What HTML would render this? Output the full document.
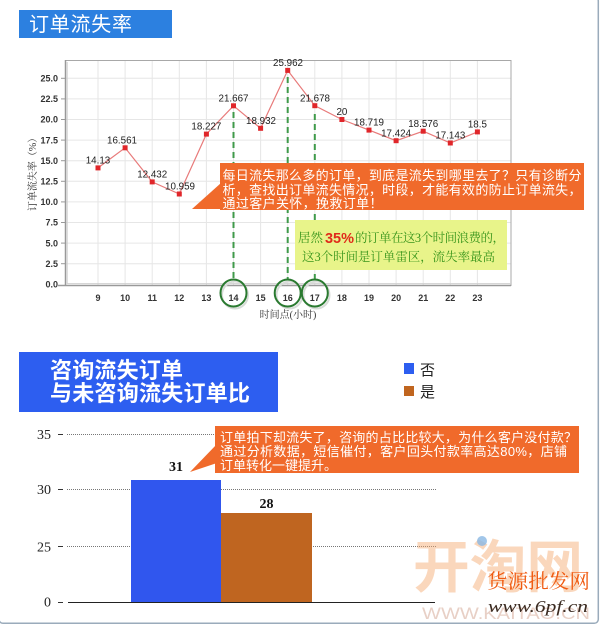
<!DOCTYPE html>
<html><head><meta charset="utf-8"><style>
html,body{margin:0;padding:0;background:#fff;}
svg{display:block;}
.cjk{font-family:"Liberation Sans","Noto Sans CJK SC",sans-serif;}
</style></head><body>
<svg width="600" height="626" viewBox="0 0 600 626" xmlns="http://www.w3.org/2000/svg">
<rect x="0" y="0" width="600" height="626" fill="#fff"/>
<!-- page frame -->
<rect x="-1" y="-3" width="599.3" height="626.3" rx="4" fill="none" stroke="#9aabbb" stroke-width="1.5"/>

<!-- header 1 -->
<rect x="19" y="10" width="153" height="28" fill="#2c80e0"/>
<text x="29" y="31" fill="#fff" font-size="20" class="cjk" font-family="Liberation Sans, Noto Sans CJK SC, sans-serif" textLength="103" lengthAdjust="spacing">订单流失率</text>

<!-- plot grid -->
<g stroke="#e6e6e6" stroke-width="1">
<line x1="65" y1="263.7" x2="511" y2="263.7"/><line x1="65" y1="243.1" x2="511" y2="243.1"/>
<line x1="65" y1="222.5" x2="511" y2="222.5"/><line x1="65" y1="201.9" x2="511" y2="201.9"/>
<line x1="65" y1="181.3" x2="511" y2="181.3"/><line x1="65" y1="160.7" x2="511" y2="160.7"/>
<line x1="65" y1="140.1" x2="511" y2="140.1"/><line x1="65" y1="119.5" x2="511" y2="119.5"/>
<line x1="65" y1="98.9" x2="511" y2="98.9"/><line x1="65" y1="78.3" x2="511" y2="78.3"/>
<line x1="98" y1="60" x2="98" y2="285"/><line x1="125.1" y1="60" x2="125.1" y2="285"/>
<line x1="152.2" y1="60" x2="152.2" y2="285"/><line x1="179.3" y1="60" x2="179.3" y2="285"/>
<line x1="206.4" y1="60" x2="206.4" y2="285"/><line x1="233.5" y1="60" x2="233.5" y2="285"/>
<line x1="260.6" y1="60" x2="260.6" y2="285"/><line x1="287.7" y1="60" x2="287.7" y2="285"/>
<line x1="314.8" y1="60" x2="314.8" y2="285"/><line x1="341.9" y1="60" x2="341.9" y2="285"/>
<line x1="369" y1="60" x2="369" y2="285"/><line x1="396.1" y1="60" x2="396.1" y2="285"/>
<line x1="423.2" y1="60" x2="423.2" y2="285"/><line x1="450.3" y1="60" x2="450.3" y2="285"/>
<line x1="477.4" y1="60" x2="477.4" y2="285"/>
</g>
<!-- frame -->
<rect x="65.5" y="60.5" width="445.5" height="225" fill="none" stroke="#a8a8a8" stroke-width="1"/>
<line x1="65.5" y1="60" x2="65.5" y2="286" stroke="#999" stroke-width="1.5"/>
<line x1="67.2" y1="62" x2="67.2" y2="284" stroke="#cfcfcf" stroke-width="1"/>
<line x1="58" y1="285.5" x2="511" y2="285.5" stroke="#999" stroke-width="1.5"/>
<line x1="67" y1="283.6" x2="511" y2="283.6" stroke="#d0d0d0" stroke-width="1"/>
<!-- y ticks -->
<g stroke="#999" stroke-width="1">
<line x1="61" y1="263.7" x2="65" y2="263.7"/><line x1="61" y1="243.1" x2="65" y2="243.1"/>
<line x1="61" y1="222.5" x2="65" y2="222.5"/><line x1="61" y1="201.9" x2="65" y2="201.9"/>
<line x1="61" y1="181.3" x2="65" y2="181.3"/><line x1="61" y1="160.7" x2="65" y2="160.7"/>
<line x1="61" y1="140.1" x2="65" y2="140.1"/><line x1="61" y1="119.5" x2="65" y2="119.5"/>
<line x1="61" y1="98.9" x2="65" y2="98.9"/><line x1="61" y1="78.3" x2="65" y2="78.3"/>
</g>
<g font-family="Liberation Sans, sans-serif" font-size="9" font-weight="bold" fill="#333" text-anchor="end">
<text x="58" y="287.5">0.0</text><text x="58" y="266.9">2.5</text><text x="58" y="246.3">5.0</text>
<text x="58" y="225.7">7.5</text><text x="58" y="205.1">10.0</text><text x="58" y="184.5">12.5</text>
<text x="58" y="163.9">15.0</text><text x="58" y="143.3">17.5</text><text x="58" y="122.7">20.0</text>
<text x="58" y="102.1">22.5</text><text x="58" y="81.5">25.0</text>
</g>
<g font-family="Liberation Sans, sans-serif" font-size="9" font-weight="bold" fill="#333" text-anchor="middle">
<text x="98" y="301">9</text><text x="125.1" y="301">10</text><text x="152.2" y="301">11</text>
<text x="179.3" y="301">12</text><text x="206.4" y="301">13</text><text x="233.5" y="301">14</text>
<text x="260.6" y="301">15</text><text x="287.7" y="301">16</text><text x="314.8" y="301">17</text>
<text x="341.9" y="301">18</text><text x="369" y="301">19</text><text x="396.1" y="301">20</text>
<text x="423.2" y="301">21</text><text x="450.3" y="301">22</text><text x="477.4" y="301">23</text>
</g>
<text x="288" y="318" text-anchor="middle" font-size="10" fill="#333" font-family="Liberation Serif, Noto Serif CJK SC, serif">时间点(小时)</text>
<text transform="translate(36,172) rotate(-90)" text-anchor="middle" font-size="10" fill="#333" font-family="Liberation Serif, Noto Serif CJK SC, serif">订单流失率（%）</text>

<!-- dashed green lines -->
<g stroke="#3f9a4a" stroke-width="2" stroke-dasharray="6,4">
<line x1="233.5" y1="112" x2="233.5" y2="280"/>
<line x1="287.7" y1="77" x2="287.7" y2="280"/>
<line x1="314.8" y1="114" x2="314.8" y2="280"/>
</g>

<!-- series -->
<polyline fill="none" stroke="#e87a7a" stroke-width="1.2" points="98,167.9 125.1,147.8 152.2,181.9 179.3,194 206.4,134.1 233.5,105.8 260.6,128.3 287.7,70.4 314.8,105.7 341.9,119.5 369,130.1 396.1,140.7 423.2,131.2 450.3,143 477.4,131.9"/>
<g fill="#e0262a">
<rect x="95.5" y="165.4" width="5" height="5"/><rect x="122.6" y="145.3" width="5" height="5"/>
<rect x="149.7" y="179.4" width="5" height="5"/><rect x="176.8" y="191.5" width="5" height="5"/>
<rect x="203.9" y="131.6" width="5" height="5"/><rect x="231" y="103.3" width="5" height="5"/>
<rect x="258.1" y="125.8" width="5" height="5"/><rect x="285.2" y="67.9" width="5" height="5"/>
<rect x="312.3" y="103.2" width="5" height="5"/><rect x="339.4" y="117" width="5" height="5"/>
<rect x="366.5" y="127.6" width="5" height="5"/><rect x="393.6" y="138.2" width="5" height="5"/>
<rect x="420.7" y="128.7" width="5" height="5"/><rect x="447.8" y="140.5" width="5" height="5"/>
<rect x="474.9" y="129.4" width="5" height="5"/>
</g>
<g font-family="Liberation Sans, sans-serif" font-size="9.8" fill="#222" text-anchor="middle">
<text x="98" y="163.5">14.13</text><text x="122" y="143.5">16.561</text>
<text x="152.2" y="177.5">12.432</text><text x="180" y="189.5">10.959</text>
<text x="206.4" y="129.5">18.227</text><text x="233.5" y="101.5">21.667</text>
<text x="261" y="124">18.932</text><text x="288" y="66">25.962</text>
<text x="315" y="101.5">21.678</text><text x="341.9" y="115">20</text>
<text x="369" y="125.5">18.719</text><text x="396.1" y="136.5">17.424</text>
<text x="423.2" y="127">18.576</text><text x="450.3" y="138.5">17.143</text>
<text x="477.4" y="127.5">18.5</text>
</g>

<!-- circles -->
<g fill="none" stroke="#d8dcd8" stroke-width="2">
<ellipse cx="235" cy="295" rx="13" ry="13.5"/><ellipse cx="289.5" cy="295" rx="13" ry="13.5"/><ellipse cx="316.5" cy="295" rx="13" ry="13.5"/>
</g>
<g fill="none" stroke="#2a7a30" stroke-width="2">
<ellipse cx="233.5" cy="293" rx="13" ry="13.5"/><ellipse cx="287.7" cy="293" rx="13" ry="13.5"/><ellipse cx="314.8" cy="293" rx="13" ry="13.5"/>
</g>

<!-- callout 1 -->
<polygon points="221,183 192,209 236,209" fill="#f06a2b"/>
<rect x="220" y="163" width="364" height="47" fill="#f06a2b"/>
<g fill="#fff" font-size="13" font-family="Liberation Sans, Noto Sans CJK SC, sans-serif">
<text x="222.5" y="180" textLength="359" lengthAdjust="spacing">每日流失那么多的订单，到底是流失到哪里去了？只有诊断分</text>
<text x="222.5" y="194.5" textLength="359" lengthAdjust="spacing">析，查找出订单流失情况，时段，才能有效的防止订单流失，</text>
<text x="222.5" y="208" textLength="160" lengthAdjust="spacing">通过客户关怀，挽救订单！</text>
</g>

<!-- yellow note -->
<rect x="295" y="220" width="212" height="50" fill="#e8f48a"/>
<g font-size="12.5" fill="#3a961c" font-family="Liberation Serif, Noto Serif CJK SC, serif">
<text x="298" y="242" textLength="25" lengthAdjust="spacing">居然</text>
<text x="325" y="243" font-size="15" font-weight="bold" fill="#e02a1a" font-family="Liberation Sans, sans-serif" textLength="29" lengthAdjust="spacingAndGlyphs">35%</text>
<text x="355" y="242" textLength="150" lengthAdjust="spacing">的订单在这3个时间浪费的，</text>
<text x="302" y="261" textLength="193" lengthAdjust="spacing">这3个时间是订单雷区，流失率最高</text>
</g>

<!-- header 2 -->
<rect x="19" y="352" width="259" height="60" fill="#2d5ef0"/>
<g fill="#fff" font-size="22" font-weight="bold" font-family="Liberation Sans, Noto Sans CJK SC, sans-serif">
<text x="50" y="378" textLength="133" lengthAdjust="spacing">咨询流失订单</text>
<text x="50" y="401" textLength="200" lengthAdjust="spacing">与未咨询流失订单比</text>
</g>

<!-- legend -->
<rect x="404" y="363" width="10" height="11" fill="#2d5ef0"/>
<rect x="404" y="386" width="10" height="10" fill="#c0651f"/>
<g font-size="15" fill="#222" font-family="Liberation Sans, Noto Sans CJK SC, sans-serif">
<text x="420" y="375">否</text><text x="420" y="397">是</text>
</g>

<!-- bar chart -->
<g stroke="#777" stroke-width="1" stroke-dasharray="1,1">
<line x1="67" y1="434.5" x2="437" y2="434.5"/>
<line x1="67" y1="489.5" x2="437" y2="489.5"/>
<line x1="67" y1="546.5" x2="437" y2="546.5"/>
</g>
<g stroke="#333" stroke-width="1">
<line x1="58" y1="434.5" x2="63" y2="434.5"/><line x1="58" y1="489.5" x2="63" y2="489.5"/>
<line x1="58" y1="546.5" x2="63" y2="546.5"/><line x1="58" y1="602.5" x2="63" y2="602.5"/>
</g>
<line x1="68" y1="602.5" x2="435" y2="602.5" stroke="#222" stroke-width="1"/>
<g font-size="14" fill="#222" font-family="Liberation Serif, serif" text-anchor="end">
<text x="51" y="439">35</text><text x="51" y="494">30</text><text x="51" y="551.5">25</text><text x="51" y="606.5">0</text>
</g>
<rect x="131" y="480" width="90" height="122" fill="#3056ee"/>
<rect x="221" y="513" width="91" height="89" fill="#bf6520"/>
<g font-size="14" fill="#111" font-family="Liberation Serif, serif" text-anchor="middle" font-weight="bold">
<text x="176" y="471">31</text><text x="266.5" y="508">28</text>
</g>

<!-- callout 2 -->
<polygon points="217,444 190,472 217,463" fill="#f06a2b"/>
<rect x="215" y="426" width="364" height="47" fill="#f06a2b"/>
<g fill="#fff" font-size="13" font-family="Liberation Sans, Noto Sans CJK SC, sans-serif">
<text x="220" y="442" textLength="357" lengthAdjust="spacing">订单拍下却流失了，咨询的占比比较大，为什么客户没付款？</text>
<text x="220" y="456" textLength="347" lengthAdjust="spacing">通过分析数据，短信催付，客户回头付款率高达80%，店铺</text>
<text x="220" y="470" textLength="117" lengthAdjust="spacing">订单转化一键提升。</text>
</g>

<!-- watermark -->
<text x="413" y="587" font-size="57" font-weight="bold" fill="#f5a66a" fill-opacity="0.45" font-family="Liberation Sans, Noto Sans CJK SC, sans-serif" textLength="170" lengthAdjust="spacingAndGlyphs">开淘网</text>
<circle cx="482" cy="541" r="5" fill="#8ab8e4" fill-opacity="0.8"/>
<text x="422" y="619" font-size="17" fill="#e2c4b8" fill-opacity="0.8" font-family="Liberation Sans, sans-serif" textLength="168" lengthAdjust="spacingAndGlyphs">WWW.KAITAO.CN</text>
<text x="487" y="588" font-size="20" fill="#f05a10" font-family="Liberation Sans, Noto Serif CJK SC, serif" textLength="103" lengthAdjust="spacingAndGlyphs">货源批发网</text>
<text x="488" y="612" font-size="17" font-style="italic" fill="#3a2a20" font-family="Liberation Serif, serif" textLength="100" lengthAdjust="spacingAndGlyphs">www.6pf.cn</text>
</svg>
</body></html>
